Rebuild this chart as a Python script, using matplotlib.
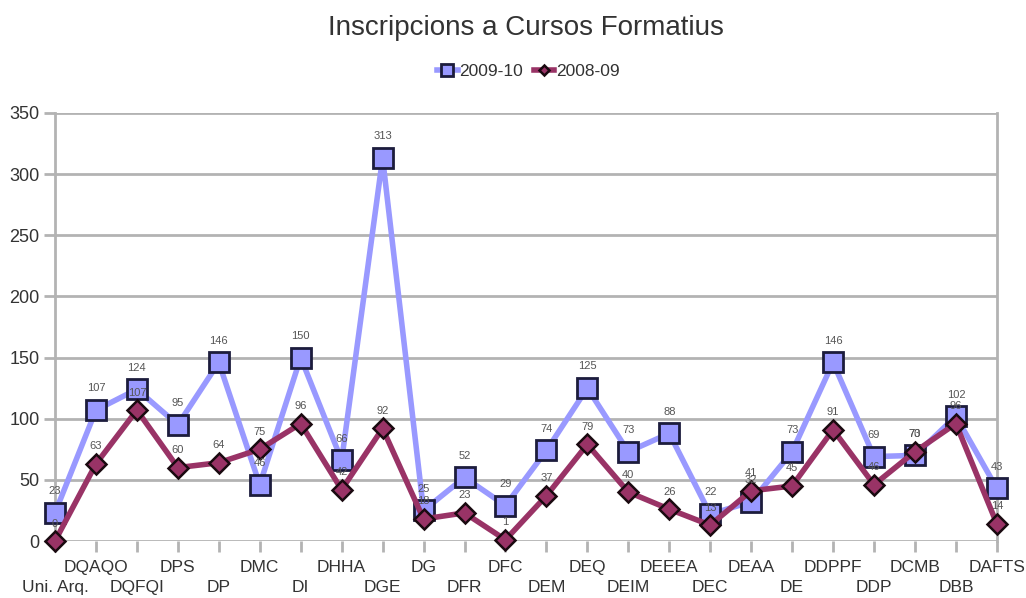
import matplotlib.pyplot as plt

plt.rcParams['font.family'] = ['Liberation Sans', 'DejaVu Sans']

# Dades
departaments = ['Uni. Arq.', 'DQAQO', 'DQFQI', 'DPS', 'DP', 'DMC', 'DI', 'DHHA', 'DGE', 'DG',
                'DFR', 'DFC', 'DEM', 'DEQ', 'DEIM', 'DEEEA', 'DEC', 'DEAA', 'DE', 'DDPPF',
                'DDP', 'DCMB', 'DBB', 'DAFTS']
curs_2009_10 = [23, 107, 124, 95, 146, 46, 150, 66, 313, 25, 52, 29, 74, 125, 73, 88, 22, 32,
                73, 146, 69, 70, 102, 43]
curs_2008_09 = [0, 63, 107, 60, 64, 75, 96, 42, 92, 18, 23, 1, 37, 79, 40, 26, 13, 41, 45, 91,
                46, 73, 96, 14]

color_blau = '#9999ff'
color_granat = '#993366'
gris = '#b3b3b3'

fig = plt.figure(figsize=(10.26, 5.98), dpi=100)
ax = fig.add_axes([0.0536, 0.0953, 0.918, 0.716])

x = list(range(len(departaments)))
ax.plot(x, curs_2009_10, color=color_blau, linewidth=4, marker='s', markersize=15,
        markerfacecolor=color_blau, markeredgecolor='#1c1c3c', markeredgewidth=2,
        label='2009-10', zorder=3)
ax.plot(x, curs_2008_09, color=color_granat, linewidth=4, marker='D', markersize=10,
        markerfacecolor=color_granat, markeredgecolor='#1a0a10', markeredgewidth=1.8,
        label='2008-09', zorder=4)

# Etiquetes de valors
for xi, v in zip(x, curs_2009_10):
    ax.annotate(str(v), (xi, v), xytext=(0, 12), textcoords='offset points',
                ha='center', va='bottom', fontsize=8, color='#555555', zorder=5)
for xi, v in zip(x, curs_2008_09):
    ax.annotate(str(v), (xi, v), xytext=(0, 9), textcoords='offset points',
                ha='center', va='bottom', fontsize=8, color='#555555', zorder=5)

ax.set_xlim(0, len(departaments) - 1)
ax.set_ylim(0, 350)
ax.set_yticks(range(0, 351, 50))
# etiquetes alternades: files superior (major) i inferior (minor)
ax.set_xticks(x[1::2])
ax.set_xticklabels(departaments[1::2], fontsize=12.5, color='#333333')
ax.set_xticks(x[0::2], minor=True)
ax.set_xticklabels(departaments[0::2], minor=True, fontsize=12.5, color='#333333')
ax.tick_params(axis='y', labelsize=13, labelcolor='#333333', length=8, width=2, color=gris, pad=3)
ax.tick_params(axis='x', which='major', length=8, width=2, color=gris, pad=6)
ax.tick_params(axis='x', which='minor', length=8, width=2, color=gris, pad=20)

ax.grid(axis='y', color=gris, linewidth=2)
ax.set_axisbelow(True)
for s in ['top', 'bottom']:
    ax.spines[s].set_visible(False)
for s in ['left', 'right']:
    ax.spines[s].set_color(gris)
    ax.spines[s].set_linewidth(2)
for ln in ax.lines:
    ln.set_clip_on(False)

fig.suptitle('Inscripcions a Cursos Formatius', x=0.513, y=0.975, fontsize=20, color='#333333')
fig.legend(loc='center', bbox_to_anchor=(0.515, 0.88), ncol=2, frameon=False, fontsize=12.5,
           handlelength=1.2, handletextpad=0.1, columnspacing=0.6, markerscale=0.55,
           labelcolor='#333333')

fig.savefig('out.png', dpi=100)
